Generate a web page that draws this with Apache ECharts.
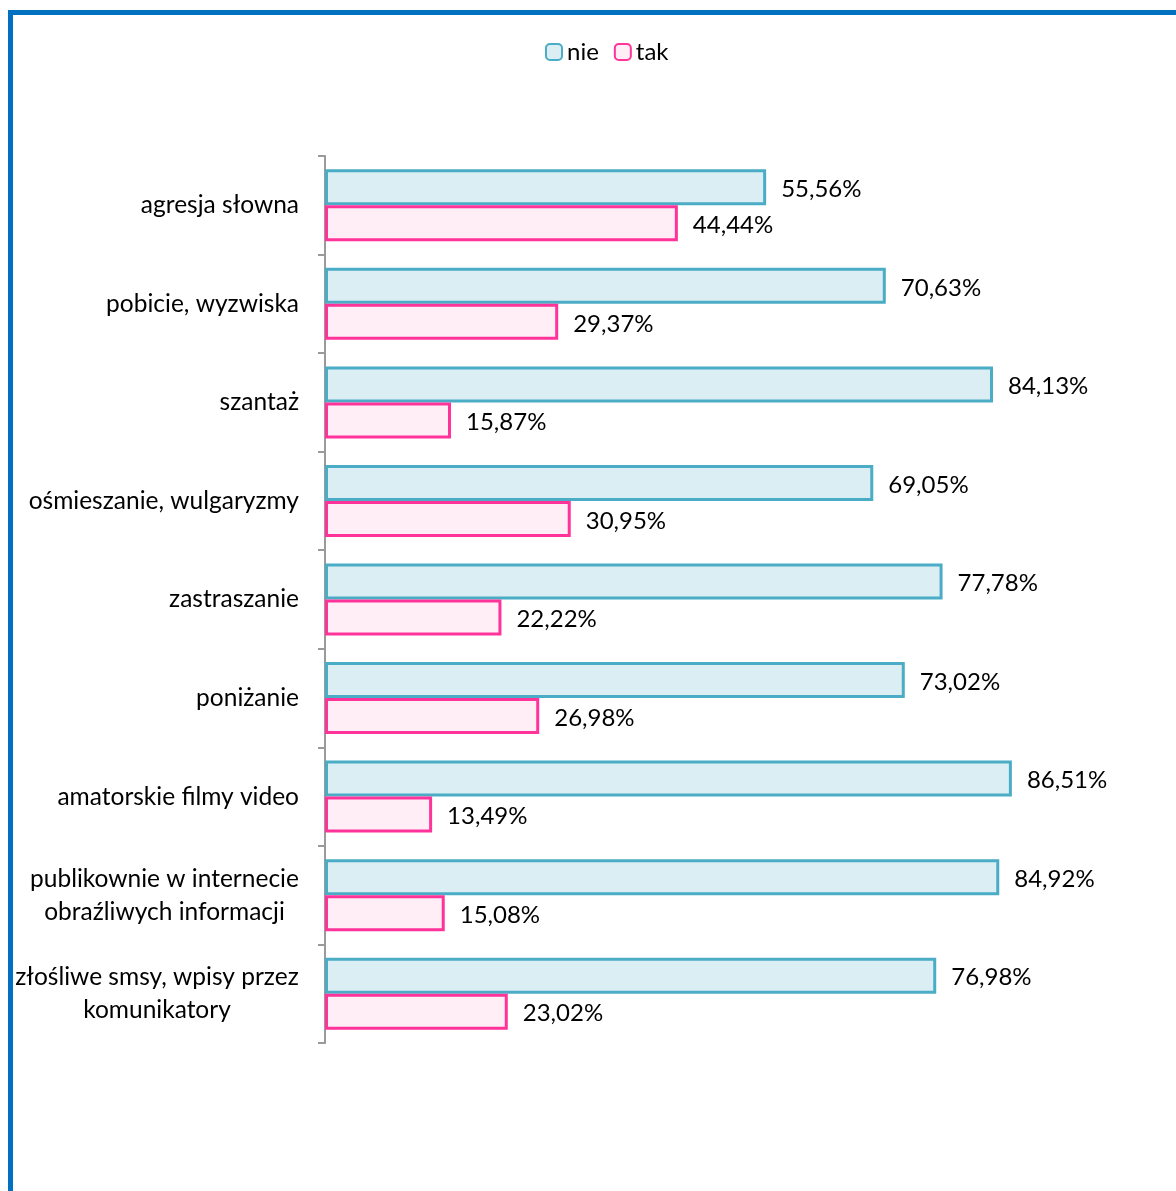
<!DOCTYPE html>
<html>
<head>
<meta charset="utf-8">
<script src="https://cdn.jsdelivr.net/npm/echarts@6/dist/echarts.min.js"></script>
<style>
  html, body { margin: 0; padding: 0; background: #fff; overflow: hidden; }
  #chart { width: 1176px; height: 1191px; }
</style>
</head>
<body>
<div id="chart"></div>
<script>
// kategorie od góry do dołu
let categories = [
    'agresja słowna',
    'pobicie, wyzwiska',
    'szantaż',
    'ośmieszanie, wulgaryzmy',
    'zastraszanie',
    'poniżanie',
    'amatorskie filmy video',
    'publikownie w internecie\nobraźliwych informacji',
    'złośliwe smsy, wpisy przez\nkomunikatory'
];
let nieValues = [55.56, 70.63, 84.13, 69.05, 77.78, 73.02, 86.51, 84.92, 76.98];
let takValues = [44.44, 29.37, 15.87, 30.95, 22.22, 26.98, 13.49, 15.08, 23.02];

let fontName = 'Lato, "Open Sans", sans-serif';
let fontSize = 24;
let catFontSize = 24.5;

function pct(p) {
    return p.value.toFixed(2).replace('.', ',') + '%';
}

// etykiety dwuwierszowe: wyśrodkowane w bloku o szerokości najdłuższej linii
let measureCtx = document.createElement('canvas').getContext('2d');
measureCtx.font = catFontSize + 'px ' + fontName;
let richStyles = {};
let richKey = {};
categories.forEach(function (c, i) {
    if (c.indexOf('\n') < 0) return;
    let w = Math.max.apply(null, c.split('\n').map(function (s) {
        return measureCtx.measureText(s).width;
    }));
    richStyles['m' + i] = {
        width: Math.ceil(w),
        align: 'center',
        fontSize: catFontSize,
        lineHeight: 33,
        color: '#000',
        fontFamily: fontName
    };
    richKey[c] = 'm' + i;
});

let valueLabel = {
    show: true,
    position: 'right',
    distance: 15,
    offset: [0, 2],
    fontSize: fontSize,
    color: '#000',
    fontFamily: fontName,
    formatter: pct
};

let option = {
    backgroundColor: '#fff',
    animation: false,
    textStyle: { fontFamily: fontName },
    legend: {
        top: 35,
        left: 540,
        itemWidth: 16,
        itemHeight: 16,
        itemGap: 15,
        icon: 'roundRect',
        textStyle: { fontSize: fontSize, color: '#000', fontFamily: fontName, padding: [0, 0, 0, 0] },
        data: ['nie', 'tak']
    },
    grid: {
        left: 325,
        right: 57,
        top: 156,
        bottom: 148,
        containLabel: false
    },
    xAxis: {
        type: 'value',
        min: 0,
        max: 100,
        show: false,
        splitLine: { show: false }
    },
    yAxis: {
        type: 'category',
        inverse: true,
        data: categories,
        axisLine: { show: true, lineStyle: { color: '#9a9a9a', width: 2 } },
        axisTick: { show: true, inside: false, length: 7, lineStyle: { color: '#9a9a9a', width: 2 } },
        axisLabel: {
            margin: 26,
            color: '#000',
            fontSize: catFontSize,
            fontFamily: fontName,
            lineHeight: 33,
            formatter: function (val) {
                if (richKey[val]) {
                    return '{' + richKey[val] + '|' + val + '}';
                }
                return val;
            },
            rich: richStyles
        }
    },
    series: [
        {
            name: 'nie',
            type: 'bar',
            data: nieValues,
            barWidth: 36,
            barGap: '0%',
            itemStyle: {
                color: '#dbeef4',
                borderColor: '#4bacc6',
                borderWidth: 3
            },
            label: valueLabel
        },
        {
            name: 'tak',
            type: 'bar',
            data: takValues,
            barWidth: 36,
            barGap: '0%',
            itemStyle: {
                color: '#ffeef6',
                borderColor: '#ff3399',
                borderWidth: 3
            },
            label: valueLabel
        }
    ],
    graphic: [
        {
            type: 'rect',
            silent: true,
            shape: { x: 10.5, y: 12.5, width: 3000, height: 3000 },
            style: { fill: 'none', stroke: '#0070c0', lineWidth: 5 }
        }
    ]
};

var dom = document.getElementById('chart');
var myChart = echarts.init(dom);
myChart.setOption(option, true);
</script>
</body>
</html>
